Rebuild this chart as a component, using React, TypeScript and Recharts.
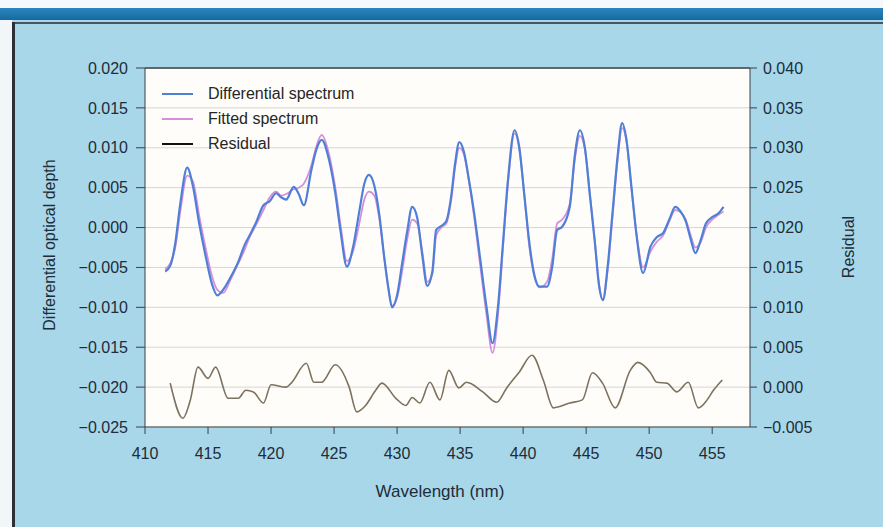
import { LineChart, Line, XAxis, YAxis, CartesianGrid, ReferenceLine } from "recharts"

const wavelengths = [
  411.6, 412.0, 412.4, 412.8, 413.35, 413.8, 414.3, 414.8, 415.3, 415.74,
  416.2, 416.8, 417.4, 417.9, 418.3, 418.8, 419.4, 419.9, 420.4, 420.8,
  421.2, 421.8, 422.2, 422.6, 423.2, 423.6, 424.02, 424.6, 425.1, 425.5,
  426.02, 426.5, 427.0, 427.4, 427.77, 428.2, 428.6, 429.0, 429.3, 429.6,
  430.0, 430.4, 430.8, 431.2, 431.6, 432.0, 432.39, 432.8, 433.1, 433.5,
  433.9, 434.3, 434.6, 434.94, 435.3, 435.7, 436.1, 436.6, 437.1, 437.57,
  438.0, 438.4, 438.8, 439.32, 439.7, 440.1, 440.5, 440.9, 441.31, 441.9,
  442.3, 442.7, 443.1, 443.7, 444.1, 444.5, 444.9, 445.3, 445.7, 446.0,
  446.33, 446.7, 447.1, 447.5, 447.85, 448.2, 448.6, 449.0, 449.52, 450.1,
  450.6, 451.1, 451.6, 452.07, 452.5, 452.9, 453.3, 453.67, 454.1, 454.5,
  455.0, 455.5, 455.9,
]

const differential = [
  -0.0055, -0.0048, -0.002, 0.003, 0.0075, 0.0052, 0.0005, -0.0035, -0.007, -0.0085,
  -0.0078, -0.0062, -0.0043, -0.0022, -0.001, 0.0006, 0.0028, 0.0033, 0.0043, 0.0038,
  0.0035, 0.0051, 0.0042, 0.0028, 0.0072, 0.0098, 0.011, 0.0085, 0.0043, -0.0003,
  -0.0049, -0.0025, 0.002, 0.0055, 0.0066, 0.0052, 0.0015, -0.004, -0.0075, -0.01,
  -0.0085, -0.0045, -0.0005, 0.0026, 0.0012, -0.0035, -0.0073, -0.0055, -0.0003, 0.0002,
  0.0008, 0.004, 0.008, 0.0107, 0.0095, 0.006, 0.002, -0.004, -0.01, -0.0145,
  -0.01, -0.002, 0.006, 0.0122, 0.01, 0.004, -0.002, -0.006, -0.0074, -0.0074,
  -0.005, -0.0003, 0.0001, 0.0026, 0.009, 0.0122, 0.01, 0.004, -0.002, -0.007,
  -0.0091, -0.005, 0.002, 0.009, 0.0131, 0.011, 0.005, -0.001, -0.0057, -0.0024,
  -0.0012, -0.0007, 0.001, 0.0026, 0.002, 0.0008, -0.0015, -0.0032, -0.0015, 0.0005,
  0.0013, 0.0018, 0.0026,
]

const fitted = [
  -0.0052, -0.0045, -0.0025, 0.002, 0.0065, 0.0058, 0.0015, -0.0025, -0.006, -0.0078,
  -0.0082, -0.0065, -0.0045, -0.0028, -0.0012, 0.0003, 0.0022, 0.0038, 0.0045, 0.004,
  0.0042, 0.0048, 0.005, 0.0055, 0.0078, 0.0102, 0.0116, 0.0092, 0.005, 0.0005,
  -0.0042, -0.003, 0.0005, 0.0035, 0.0045, 0.004, 0.001, -0.004, -0.0075, -0.0098,
  -0.0088, -0.0055, -0.0015, 0.001, 0.0005, -0.003, -0.0068, -0.0058, -0.001, 0.0,
  0.0005, 0.0035, 0.0075, 0.01, 0.0092, 0.0058, 0.0015, -0.0048, -0.011, -0.0157,
  -0.011, -0.0025, 0.0055, 0.0118, 0.0098, 0.004, -0.0025, -0.0062, -0.0075, -0.0068,
  -0.004, 0.0005, 0.001, 0.003, 0.0085, 0.0115, 0.0098, 0.0042, -0.0018, -0.0068,
  -0.009, -0.0055, 0.0015, 0.0085, 0.0125, 0.0108, 0.0048, -0.0008, -0.005, -0.003,
  -0.0018, -0.001, 0.0008, 0.0022, 0.0019, 0.001, -0.001, -0.0025, -0.0018, 0.0,
  0.001, 0.0016, 0.002,
]

const residualWavelengths = [
  412.0, 413.0, 413.6, 414.2, 415.0, 415.6, 416.6, 417.4, 418.0, 418.6,
  419.4, 420.0, 421.2, 421.6, 422.8, 423.4, 424.0, 425.1, 426.2, 426.8,
  427.5, 428.3, 428.8, 429.9, 430.7, 431.2, 431.8, 432.6, 433.4, 434.1,
  434.9, 435.5, 436.8, 437.9, 438.7, 439.7, 440.7, 441.6, 442.4, 443.7,
  444.7, 445.5, 446.3, 447.3, 448.5, 449.1, 450.1, 450.6, 451.4, 452.2,
  453.1, 453.9, 454.6, 455.1, 455.8,
]

const residual = [
  0.0005, -0.0039, -0.0016, 0.0025, 0.0011, 0.0025, -0.0014, -0.0014, -0.0004, -0.0006,
  -0.002, 0.0003, 0.0, 0.0005, 0.003, 0.0006, 0.0006, 0.0028, 0.0, -0.0031,
  -0.0023, -0.0004, 0.0005, -0.0014, -0.0023, -0.0013, -0.002, 0.0006, -0.0016, 0.0021,
  -0.0001, 0.0006, -0.0006, -0.0019, -0.0001, 0.0019, 0.004, 0.0009, -0.0026, -0.002,
  -0.0016, 0.0018, 0.0005, -0.0026, 0.0021, 0.0031, 0.0018, 0.0006, 0.0005, -0.0006,
  0.0006, -0.0026, -0.0016, -0.0004, 0.0009,
]

const xTicks = [410, 415, 420, 425, 430, 435, 440, 445, 450, 455]
const leftTicks = [-0.025, -0.02, -0.015, -0.01, -0.005, 0, 0.005, 0.01, 0.015, 0.02]
const rightTicks = [-0.005, 0, 0.005, 0.01, 0.015, 0.02, 0.025, 0.03, 0.035, 0.04]

const spectrumData = wavelengths.map((wl, i) => ({ wl, differential: differential[i], fitted: fitted[i] }))
const residualData = residualWavelengths.map((wl, i) => ({ wl, residual: residual[i] }))

const FONT = "'Liberation Sans', Arial, Helvetica, sans-serif"
const TEXT = "#202c38"
const AXIS = "#3b3f44"

const fmt = (v: number) => (v < 0 ? "\u2212" : "") + Math.abs(v).toFixed(3)

const legendItems = [
  { label: "Differential spectrum", color: "#4f7fd6" },
  { label: "Fitted spectrum", color: "#d38fdc" },
  { label: "Residual", color: "#111" },
]

// legend sits inside the plot, top left
const LegendBox = () => (
  <div style={{ position: "absolute", left: 162, top: 81, fontFamily: FONT, fontSize: 16, color: "#262626" }}>
    {legendItems.map((it) => (
      <div key={it.label} style={{ display: "flex", alignItems: "center", height: 25 }}>
        <span style={{ display: "inline-block", width: 31, height: 2, background: it.color, marginRight: 15 }} />
        <span>{it.label}</span>
      </div>
    ))}
  </div>
)

export default function App() {
  return (
    <div style={{ position: "relative", width: 883, height: 527, background: "#a8d7ea", overflow: "hidden" }}>
      <style>{"body{margin:0}"}</style>
      <div style={{ position: "absolute", left: 0, top: 0, width: 883, height: 8, background: "#f6f9fb" }} />
      <div style={{ position: "absolute", left: 0, top: 8, width: 883, height: 12, background: "linear-gradient(#2a86bd, #146aa0)" }} />
      <div style={{ position: "absolute", left: 14, top: 22, width: 869, height: 2, background: "#4a5560" }} />
      <div style={{ position: "absolute", left: 0, top: 20, width: 12, height: 507, background: "#f2f6f8" }} />
      <div style={{ position: "absolute", left: 12, top: 22, width: 3, height: 505, background: "#2b3036" }} />

      <div style={{ position: "absolute", left: 0, top: 0 }}>
        <LineChart width={883} height={527} margin={{ top: 68, right: 73, bottom: 60, left: 85 }}>
          <CartesianGrid yAxisId="left" vertical={false} stroke="#d6d6d6" fill="#fffdf9" />
          <XAxis
            dataKey="wl"
            type="number"
            domain={[410, 458]}
            ticks={xTicks}
            allowDataOverflow
            height={40}
            tickSize={7}
            tickMargin={14}
            stroke={AXIS}
            tick={{ fill: TEXT, fontSize: 16, fontFamily: FONT }}
          />
          <YAxis
            yAxisId="left"
            orientation="left"
            domain={[-0.025, 0.02]}
            ticks={leftTicks}
            tickFormatter={fmt}
            width={60}
            tickSize={9}
            tickMargin={8}
            stroke={AXIS}
            tick={{ fill: TEXT, fontSize: 16, fontFamily: FONT }}
          />
          <YAxis
            yAxisId="right"
            orientation="right"
            domain={[-0.005, 0.04]}
            ticks={rightTicks}
            tickFormatter={fmt}
            width={60}
            tickSize={7}
            tickMargin={6}
            stroke={AXIS}
            tick={{ fill: TEXT, fontSize: 16, fontFamily: FONT }}
          />
          <ReferenceLine yAxisId="left" y={0.02} stroke={AXIS} strokeWidth={1.5} />
          <Line
            yAxisId="right"
            data={residualData}
            dataKey="residual"
            name="Residual"
            type="monotone"
            stroke="#7d725f"
            strokeWidth={1.6}
            dot={false}
            isAnimationActive={false}
          />
          <Line
            yAxisId="left"
            data={spectrumData}
            dataKey="fitted"
            name="Fitted spectrum"
            type="monotone"
            stroke="#d38fdc"
            strokeWidth={1.8}
            dot={false}
            isAnimationActive={false}
          />
          <Line
            yAxisId="left"
            data={spectrumData}
            dataKey="differential"
            name="Differential spectrum"
            type="monotone"
            stroke="#4f7fd6"
            strokeWidth={2.2}
            dot={false}
            isAnimationActive={false}
          />
        </LineChart>
      </div>

      <LegendBox />
      <div style={{ position: "absolute", left: 50, top: 245, transform: "translate(-50%, -50%) rotate(-90deg)", whiteSpace: "nowrap", fontFamily: FONT, fontSize: 16, color: TEXT }}>
        Differential optical depth
      </div>
      <div style={{ position: "absolute", left: 849, top: 247, transform: "translate(-50%, -50%) rotate(-90deg)", whiteSpace: "nowrap", fontFamily: FONT, fontSize: 16, color: TEXT }}>
        Residual
      </div>
      <div style={{ position: "absolute", left: 440, top: 492, transform: "translate(-50%, -50%)", whiteSpace: "nowrap", fontFamily: FONT, fontSize: 17, color: TEXT }}>
        Wavelength (nm)
      </div>
    </div>
  )
}
